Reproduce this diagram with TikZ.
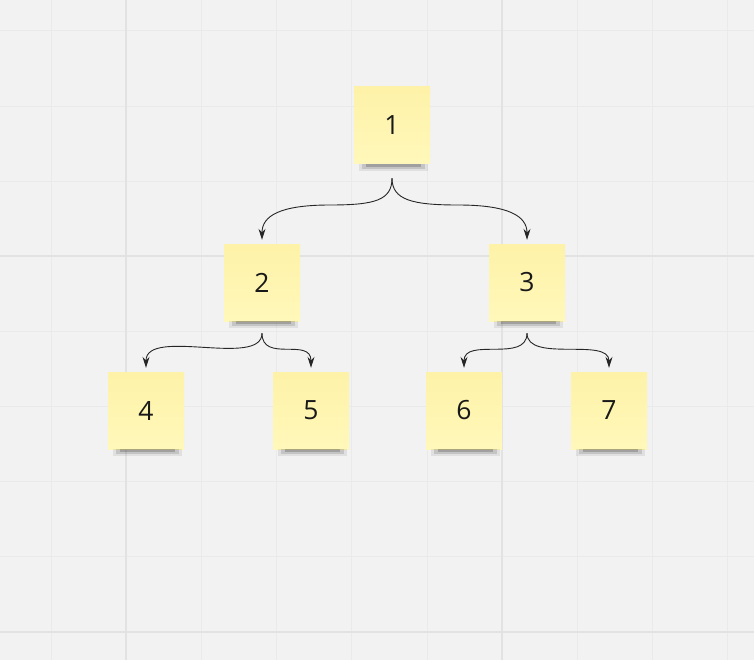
\documentclass[tikz,border=0pt]{standalone}
\usepackage{fontspec}
\setmainfont{Open Sans}
\usetikzlibrary{positioning, arrows.meta}

\definecolor{boardbg}{RGB}{242,242,242}
\definecolor{gridminor}{RGB}{234,234,234}
\definecolor{gridmajor}{RGB}{226,226,226}
\definecolor{notetop}{RGB}{254,242,168}
\definecolor{notebottom}{RGB}{255,248,186}

\tikzset{
  note/.style={rectangle, top color=notetop, bottom color=notebottom, minimum width=76pt, minimum height=77pt, inner sep=0pt, font=\fontsize{26.5}{32}\selectfont, text=black!90},
  link/.style={-{Stealth[length=11pt,width=7pt]}, draw=black!85, line width=0.9pt, shorten >=4pt},
}

\begin{document}
\begin{tikzpicture}[x=1pt,y=1pt,node distance=4cm,on grid]
	\fill[boardbg] (0,0) rectangle (754,-660);
	\useasboundingbox (0,0) rectangle (754,-660);
	% board grid
	\foreach \i in {0,...,9}
		\draw[gridminor, line width=1pt] (51+75.2*\i,0) -- ++(0,-660);
	\foreach \j in {0,...,8}
		\draw[gridminor, line width=1pt] (0,-31-75.1*\j) -- ++(754,0);
	\foreach \i in {1,6}
		\draw[gridmajor, line width=2pt] (51+75.2*\i,0) -- ++(0,-660);
	\foreach \j in {3,8}
		\draw[gridmajor, line width=2pt] (0,-31-75.1*\j) -- ++(754,0);

	\node[note] (n1) at (392,-125.5)		{1};
	\node[note] (n2) [below left=157pt and 130pt of n1]		{2};
	\node[note] (n3) [below right=157pt and 135pt of n1]	{3};
	\node[note] (n4) [below left=128pt and 116pt of n2]		{4};
	\node[note] (n5) [below right=128pt and 49pt of n2]		{5};
	\node[note] (n6) [below left=128pt and 63pt of n3]		{6};
	\node[note] (n7) [below right=128pt and 82pt of n3]		{7};

	% shadows under the notes
	\foreach \n in {n1,n2,n3,n4,n5,n6,n7} {
		\fill[black, opacity=0.07] ([xshift=5pt]\n.south west) rectangle ([xshift=-2pt,yshift=-7pt]\n.south east);
		\fill[black, opacity=0.12] ([xshift=8pt]\n.south west) rectangle ([xshift=-5pt,yshift=-5pt]\n.south east);
		\fill[black, opacity=0.18] ([xshift=12pt]\n.south west) rectangle ([xshift=-9pt,yshift=-3pt]\n.south east);
	}

	% forks below the parents
	\coordinate (f1) at ([yshift=-14pt]n1.south);
	\coordinate (f2) at ([yshift=-12pt]n2.south);
	\coordinate (f3) at ([yshift=-12pt]n3.south);
	\coordinate (m12) at (330,-205);
	\coordinate (m13) at (458,-205);

	\draw[link] (f1) .. controls +(0,-22) and +(45,0) .. (m12) .. controls +(-50,0) and +(0,28) .. (n2.north);
	\draw[link] (f1) .. controls +(0,-22) and +(-45,0) .. (m13) .. controls +(50,0) and +(0,28) .. (n3.north);
	\draw[link] (f2) .. controls +(0,-35) and +(0,45) .. (n4.north);
	\draw[link] (f2) .. controls +(0,-30) and +(0,35) .. (n5.north);
	\draw[link] (f3) .. controls +(0,-30) and +(0,35) .. (n6.north);
	\draw[link] (f3) .. controls +(0,-30) and +(0,35) .. (n7.north);
\end{tikzpicture}
\end{document}
